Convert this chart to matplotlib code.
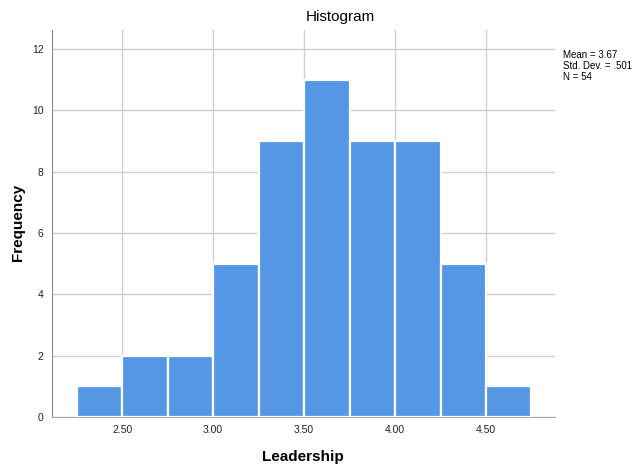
import matplotlib
matplotlib.use('Agg')
import matplotlib.pyplot as plt

# bin edges and counts
bin_edges = [2.25, 2.50, 2.75, 3.00, 3.25, 3.50, 3.75, 4.00, 4.25, 4.50, 4.75]
counts = [1, 2, 2, 5, 9, 11, 9, 9, 5, 1]
x_ticks = [2.50, 3.00, 3.50, 4.00, 4.50]
x_tick_labels = ['2.50', '3.00', '3.50', '4.00', '4.50']
y_ticks = [0, 2, 4, 6, 8, 10, 12]
stats_text = 'Mean = 3.67\nStd. Dev. = .501\nN = 54'

plt.rcParams['font.family'] = ['Liberation Sans', 'DejaVu Sans']

fig = plt.figure(figsize=(6.39, 4.66), dpi=100)
ax = fig.add_axes([0.0814, 0.1052, 0.7871, 0.8304])

widths = [bin_edges[i + 1] - bin_edges[i] for i in range(len(counts))]
ax.bar(bin_edges[:-1], counts, width=widths, align='edge',
       color='#5597e5', edgecolor='white', linewidth=1.6, zorder=3)

ax.set_xlim(2.115, 4.879)
ax.set_ylim(0, 12.62)
ax.set_xticks(x_ticks)
ax.set_xticklabels(x_tick_labels)
ax.set_yticks(y_ticks)
ax.tick_params(length=0, labelsize=7.5, colors='#222222', pad=6)

ax.grid(True, color='#d0d0d0', linewidth=1, zorder=0)
for side in ['top', 'right']:
    ax.spines[side].set_visible(False)
ax.spines['left'].set_color('#888888')
ax.spines['bottom'].set_color('#aaaaaa')

fig.text(340 / 639, 1 - 17 / 466, 'Histogram', ha='center', va='center', fontsize=11)
fig.text(303 / 639, 1 - 457 / 466, 'Leadership', ha='center', va='center',
         fontsize=11, fontweight='bold')
fig.text(18 / 639, 1 - 222 / 466, 'Frequency', ha='center', va='center',
         fontsize=11, fontweight='bold', rotation=90)
fig.text(563 / 639, 1 - 50 / 466, stats_text, ha='left', va='top',
         fontsize=7.0, linespacing=1.12)

fig.savefig('out.png', dpi=100)
